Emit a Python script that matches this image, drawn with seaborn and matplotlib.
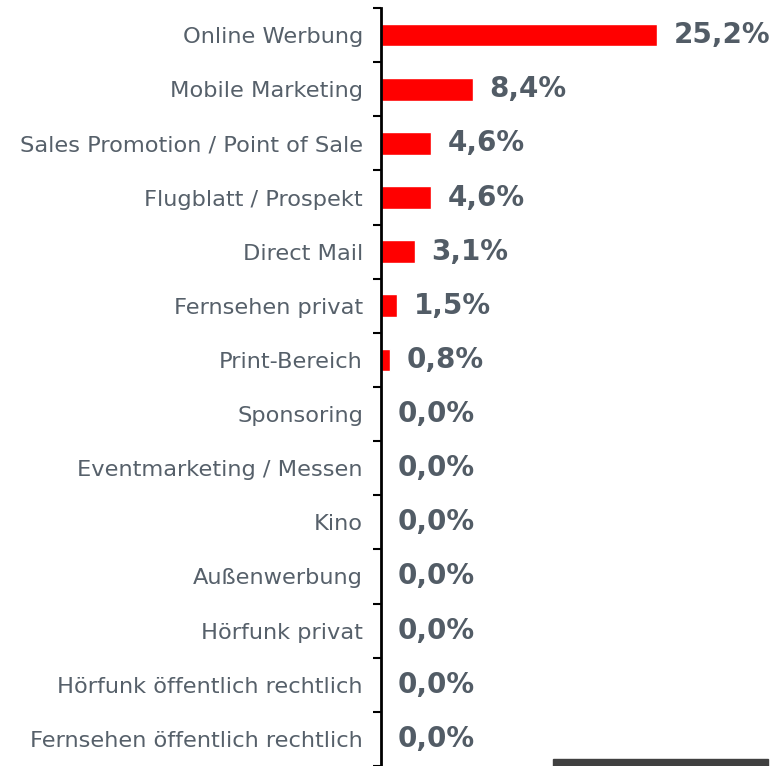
import matplotlib
matplotlib.use("Agg")
import matplotlib.pyplot as plt
import seaborn as sns
import pandas as pd
from matplotlib.patches import Rectangle

# data
kategorien = ["Online Werbung", "Mobile Marketing", "Sales Promotion / Point of Sale",
              "Flugblatt / Prospekt", "Direct Mail", "Fernsehen privat", "Print-Bereich",
              "Sponsoring", "Eventmarketing / Messen", "Kino", "Außenwerbung",
              "Hörfunk privat", "Hörfunk öffentlich rechtlich", "Fernsehen öffentlich rechtlich"]
anteile = [25.2, 8.4, 4.6, 4.6, 3.1, 1.5, 0.8, 0.0, 0.0, 0.0, 0.0, 0.0, 0.0, 0.0]
beschriftung = ["25,2%", "8,4%", "4,6%", "4,6%", "3,1%", "1,5%", "0,8%",
                "0,0%", "0,0%", "0,0%", "0,0%", "0,0%", "0,0%", "0,0%"]

df = pd.DataFrame({"kategorie": kategorien, "anteil": anteile})

sns.set_style("white")
plt.rcParams['font.family'] = ['DejaVu Sans']

fig = plt.figure(figsize=(7.83, 7.66), dpi=100)
ax = fig.add_axes([381 / 783, 0.0, 1 - 381 / 783, 1 - 8 / 766])

sns.barplot(data=df, x="anteil", y="kategorie", orient="h", color="#ff0000",
            saturation=1, width=0.42, ax=ax)

ax.set_xlim(0, 36.7)
ax.set_ylim(13.42, -0.5)
ax.set_xlabel("")
ax.set_ylabel("")
ax.set_xticks([])

for s in ["top", "right", "bottom"]:
    ax.spines[s].set_visible(False)
ax.spines["left"].set_linewidth(2)
ax.spines["left"].set_color("black")

# labels at the category centres, tick marks at the boundaries
ax.set_yticks(range(len(kategorien)))
ax.set_yticklabels(kategorien, fontsize=16.2, color="#56606a")
ax.tick_params(axis="y", which="major", left=False, length=0, pad=13)
ax.set_yticks([i - 0.5 for i in range(len(kategorien) + 1)], minor=True)
ax.tick_params(axis="y", which="minor", left=True, length=6, width=1.5,
               color="black", direction="out")

for i, (v, t) in enumerate(zip(anteile, beschriftung)):
    ax.annotate(t, xy=(v, i), xytext=(12, 0), textcoords="offset points",
                ha="left", va="center", fontsize=20, fontweight="bold", color="#525c66")

# dark strip at the bottom right
fig.patches.append(Rectangle((553 / 783, 0), (768 - 553) / 783, 7 / 766,
                             transform=fig.transFigure, color="#404040", zorder=5))

fig.savefig("out.png", dpi=100)
